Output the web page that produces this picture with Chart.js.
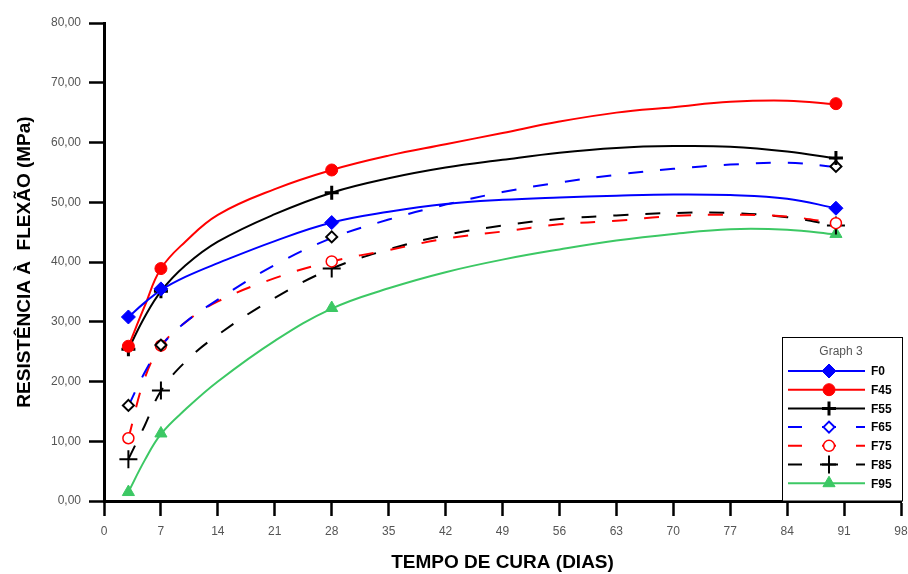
<!DOCTYPE html>
<html lang="pt">
  <head>
    <meta charset="UTF-8" />
    <title>Resistência à flexão x tempo de cura</title>
    <script src="https://cdn.jsdelivr.net/npm/chart.js"></script>
    <style>
      html, body {
        margin: 0;
        padding: 0;
        background-color: #fff;
      }
      #wrap {
        width: 908px;
        height: 574px;
      }
    </style>
  </head>
  <body>
    <div id="wrap"><canvas id="flexChart" width="908" height="574"></canvas></div>

    <script>
      // measured ages (days) and flexural strength (MPa)
      const ages = [3, 7, 28, 90];
      const f0 = [30.8, 35.5, 46.6, 49.0];
      const f45 = [25.9, 38.9, 55.4, 66.5];
      const f55 = [25.4, 35.1, 51.6, 57.4];
      const f65 = [16.0, 26.1, 44.2, 56.0];
      const f75 = [10.5, 26.0, 40.1, 46.5];
      const f85 = [7.0, 18.5, 38.9, 46.1];
      const f95 = [1.5, 11.3, 32.3, 44.7];

      // fitted curves
      const curveDays = [3, 5, 7, 10, 14, 21, 28, 35, 42, 49, 56, 63, 70, 77, 84, 90];
      const fitF0 = [30.8, 33.2, 35.3, 37.5, 39.8, 43.5, 46.6, 48.4, 49.7, 50.4, 50.8, 51.1, 51.3, 51.2, 50.6, 49.0];
      const fitF45 = [25.9, 32.6, 38.9, 43.4, 47.9, 52.2, 55.4, 57.8, 59.7, 61.6, 63.5, 65.0, 65.9, 66.8, 67.0, 66.4];
      const fitF55 = [25.4, 30.8, 35.1, 39.4, 43.4, 48.0, 51.6, 54.0, 55.8, 57.1, 58.3, 59.1, 59.4, 59.3, 58.5, 57.3];
      const fitF65 = [15.9, 21.5, 25.9, 29.9, 33.7, 39.5, 44.0, 47.1, 49.6, 51.7, 53.3, 54.6, 55.6, 56.3, 56.6, 55.9];
      const fitF75 = [10.5, 20.5, 25.9, 29.9, 33.4, 37.3, 40.1, 42.0, 43.9, 45.1, 46.3, 46.9, 47.7, 47.9, 47.6, 46.5];
      const fitF85 = [7.0, 12.6, 18.4, 23.3, 27.8, 34.0, 38.9, 42.1, 44.5, 46.1, 47.2, 47.8, 48.2, 48.2, 47.5, 46.1];
      const fitF95 = [1.5, 6.8, 11.2, 15.3, 20.0, 26.8, 32.2, 35.6, 38.3, 40.4, 42.1, 43.6, 44.7, 45.5, 45.4, 44.6];

      const xTicks = [0, 98, 7];   // min, max, step
      const yTicks = [0, 80, 10];

      const FONT = "'Liberation Sans', Arial, sans-serif";

      // look of each series
      const series = [
        { label: "F0", pts: f0, fit: fitF0, color: "#0000ff", dash: [], style: "rectRot", r: 7, fill: "#0000ff", edge: "#0000ff", bw: 1, legEdge: "#0000ff" },
        { label: "F45", pts: f45, fit: fitF45, color: "#ff0000", dash: [], style: "circle", r: 6, fill: "#ff0000", edge: "#ff0000", bw: 1, legEdge: "#ff0000" },
        { label: "F55", pts: f55, fit: fitF55, color: "#000000", dash: [], style: "cross", r: 7, fill: "#000000", edge: "#000000", bw: 3, legEdge: "#000000" },
        { label: "F65", pts: f65, fit: fitF65, color: "#0000ff", dash: [15, 17], style: "rectRot", r: 5.5, fill: "#ffffff", edge: "#000000", bw: 2, legEdge: "#0000ff" },
        { label: "F75", pts: f75, fit: fitF75, color: "#ff0000", dash: [15, 17], style: "circle", r: 5.5, fill: "#ffffff", edge: "#ff0000", bw: 1.5, legEdge: "#ff0000" },
        { label: "F85", pts: f85, fit: fitF85, color: "#000000", dash: [15, 17], style: "cross", r: 9, fill: "#000000", edge: "#000000", bw: 2, legEdge: "#000000" },
        { label: "F95", pts: f95, fit: fitF95, color: "#3cc864", dash: [], style: "triangle", r: 7, fill: "#3cc864", edge: "#3cc864", bw: 1, legEdge: "#3cc864" },
      ];

      const datasets = [];
      series.forEach(function (s) {
        datasets.push({
          label: s.label,
          data: ages.map(function (d, i) { return { x: d, y: s.pts[i] }; }),
          showLine: false,
          pointStyle: s.style,
          pointRadius: s.r,
          pointBackgroundColor: s.fill,
          pointBorderColor: s.edge,
          pointBorderWidth: s.bw,
          order: 0,
        });
        datasets.push({
          label: s.label + " fit",
          data: curveDays.map(function (d, i) { return { x: d, y: s.fit[i] }; }),
          borderColor: s.color,
          borderWidth: 2,
          borderDash: s.dash,
          tension: 0.4,
          pointRadius: 0,
          order: 1,
        });
      });

      function drawMarker(ctx, s, x, y) {
        ctx.save();
        ctx.fillStyle = s.fill;
        ctx.strokeStyle = s.legEdge;
        ctx.lineWidth = s.bw;
        ctx.setLineDash([]);
        ctx.beginPath();
        if (s.style === "rectRot") {
          ctx.moveTo(x - s.r, y);
          ctx.lineTo(x, y - s.r);
          ctx.lineTo(x + s.r, y);
          ctx.lineTo(x, y + s.r);
          ctx.closePath();
          ctx.fill();
          ctx.stroke();
        } else if (s.style === "circle") {
          ctx.arc(x, y, s.r, 0, Math.PI * 2);
          ctx.fill();
          ctx.stroke();
        } else if (s.style === "cross") {
          ctx.moveTo(x - s.r, y);
          ctx.lineTo(x + s.r, y);
          ctx.moveTo(x, y - s.r);
          ctx.lineTo(x, y + s.r);
          ctx.stroke();
        } else {
          const h = s.r * 1.5;
          ctx.moveTo(x - s.r * 0.866, y + h / 3);
          ctx.lineTo(x, y - (2 * h) / 3);
          ctx.lineTo(x + s.r * 0.866, y + h / 3);
          ctx.closePath();
          ctx.fill();
          ctx.stroke();
        }
        ctx.restore();
      }

      // "Graph 3" legend box in the lower right corner
      const legendBox = {
        id: "legendBox",
        afterDraw: function (chart) {
          const ctx = chart.ctx;
          const area = chart.chartArea;
          const left = 782.5, right = 902.5, top = 337.5, bottom = area.bottom;
          ctx.save();
          ctx.fillStyle = "#fff";
          ctx.fillRect(left, top, right - left, bottom - top);
          ctx.strokeStyle = "#000";
          ctx.lineWidth = 1;
          ctx.strokeRect(left, top, right - left, bottom - top);

          ctx.fillStyle = "#555";
          ctx.font = "12px " + FONT;
          ctx.textAlign = "center";
          ctx.textBaseline = "middle";
          ctx.fillText("Graph 3", 841, 352);

          series.forEach(function (s, i) {
            const y = 371 + i * 18.7;
            ctx.save();
            ctx.strokeStyle = s.color;
            ctx.lineWidth = 2;
            ctx.setLineDash(s.dash.length ? [14, 20] : []);
            ctx.beginPath();
            ctx.moveTo(788, y);
            ctx.lineTo(865, y);
            ctx.stroke();
            ctx.restore();
            drawMarker(ctx, s, 829, y);
            ctx.fillStyle = "#000";
            ctx.font = "bold 12px " + FONT;
            ctx.textAlign = "left";
            ctx.fillText(s.label, 871, y + 1);
          });
          ctx.restore();
        },
      };

      new Chart(document.getElementById("flexChart"), {
        type: "line",
        data: { datasets: datasets },
        options: {
          responsive: false,
          animation: false,
          layout: { autoPadding: false, padding: { left: 0, right: 0, top: 23, bottom: 0 } },
          plugins: {
            legend: { display: false },
            tooltip: { enabled: false },
          },
          scales: {
            x: {
              type: "linear",
              min: xTicks[0],
              max: xTicks[1],
              afterFit: function (scale) {
                scale.height = 73;
                scale.paddingRight = 7;
              },
              ticks: {
                stepSize: xTicks[2],
                color: "#555",
                padding: 8,
                maxRotation: 0,
                font: { family: FONT, size: 12 },
              },
              grid: { drawOnChartArea: false, drawTicks: true, tickLength: 15, tickWidth: 2.5, tickColor: "#000" },
              border: { display: true, color: "#000", width: 3 },
              title: {
                display: true,
                text: "TEMPO DE CURA (DIAS)",
                color: "#000",
                padding: { top: 0, bottom: 0 },
                font: { family: FONT, size: 19, weight: "bold" },
              },
            },
            y: {
              type: "linear",
              min: yTicks[0],
              max: yTicks[1],
              afterFit: function (scale) { scale.width = 104; },
              ticks: {
                stepSize: yTicks[2],
                color: "#555",
                padding: 8,
                font: { family: FONT, size: 12 },
                callback: function (v) { return v.toFixed(2).replace(".", ","); },
              },
              grid: { drawOnChartArea: false, drawTicks: true, tickLength: 15, tickWidth: 2.5, tickColor: "#000" },
              border: { display: true, color: "#000", width: 3 },
              title: {
                display: true,
                text: "RESISTÊNCIA À  FLEXÃO (MPa)",
                color: "#000",
                padding: { top: 13, bottom: 0 },
                font: { family: FONT, size: 19, weight: "bold" },
              },
            },
          },
        },
        plugins: [legendBox],
      });
    </script>
  </body>
</html>
